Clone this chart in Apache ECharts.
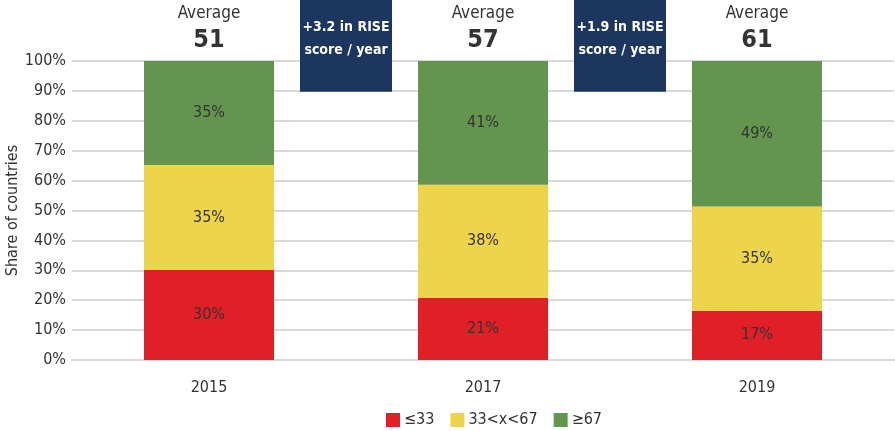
<!DOCTYPE html>
<html>
<head>
<meta charset="utf-8">
<script src="https://cdn.jsdelivr.net/npm/echarts@6/dist/echarts.min.js"></script>
<style>
  html, body { margin: 0; padding: 0; background: #fff; }
  #chart { width: 895px; height: 431px; }
</style>
</head>
<body>
<div id="chart"></div>
<script>
var years = ["2015", "2017", "2019"];
var bandNames = ["\u226433", "33<x<67", "\u226567"];
// shares (labels are rounded)
var lowShare = [30.1, 20.8, 16.5];
var midShare = [35.1, 37.8, 34.8];
var highShare = [34.8, 41.4, 48.7];
var averages = [51, 57, 61];
var gainPairs = [[0, 1], [1, 2]];
var gainText = ["+3.2 in RISE\nscore / year", "+1.9 in RISE\nscore / year"];
var yTicks = [0, 10, 20, 30, 40, 50, 60, 70, 80, 90, 100];

var font = '"DejaVu Sans Condensed", "Liberation Sans Narrow", sans-serif';
var textColor = "#333333";

var chart = echarts.init(document.getElementById("chart"));

function barLabel() {
  return {
    show: true,
    position: "inside",
    color: textColor,
    fontFamily: font,
    fontSize: 16,
    formatter: function (p) {
      return Math.round(p.value) + "%";
    }
  };
}

var option = {
  animation: false,
  textStyle: { fontFamily: font },
  grid: { left: 72, right: 1, top: 61, bottom: 71, outerBoundsMode: "none", containLabel: false },
  legend: {
    data: bandNames,
    left: 381,
    top: 407,
    itemWidth: 14,
    itemHeight: 14,
    itemGap: 16,
    icon: "rect",
    textStyle: { color: textColor, fontFamily: font, fontSize: 16, padding: [0, 0, 0, -1] }
  },
  xAxis: {
    type: "category",
    data: years,
    axisTick: { show: false },
    axisLine: { lineStyle: { color: "#d9d9d9", width: 2 } },
    axisLabel: { color: textColor, fontFamily: font, fontSize: 16, margin: 20 }
  },
  yAxis: {
    type: "value",
    min: yTicks[0],
    max: yTicks[yTicks.length - 1],
    interval: 10,
    name: "Share of countries",
    nameLocation: "middle",
    nameGap: 51,
    nameMoveOverlap: false,
    nameTextStyle: { color: textColor, fontFamily: font, fontSize: 16 },
    axisLine: { show: false },
    axisTick: { show: false },
    axisLabel: {
      color: textColor,
      fontFamily: font,
      fontSize: 16,
      margin: 6,
      formatter: "{value}%"
    },
    splitLine: { lineStyle: { color: "#d9d9d9", width: 2 } }
  },
  series: [
    {
      name: bandNames[0],
      type: "bar",
      stack: "share",
      barWidth: 130,
      data: lowShare,
      itemStyle: { color: "#e01f26" },
      label: barLabel()
    },
    {
      name: bandNames[1],
      type: "bar",
      stack: "share",
      barWidth: 130,
      data: midShare,
      itemStyle: { color: "#eed44b" },
      label: barLabel()
    },
    {
      name: bandNames[2],
      type: "bar",
      stack: "share",
      barWidth: 130,
      data: highShare,
      itemStyle: { color: "#64954e" },
      label: barLabel()
    },
    {
      // zero-height cap that carries the "Average" label
      name: "average",
      type: "bar",
      stack: "share",
      barWidth: 130,
      data: years.map(function () { return 0; }),
      itemStyle: { color: "transparent" },
      label: {
        show: true,
        position: "top",
        distance: 7,
        formatter: function (p) {
          return "{a|Average}\n{b|" + averages[p.dataIndex] + "}";
        },
        rich: {
          a: { color: textColor, fontFamily: font, fontSize: 17, lineHeight: 24, align: "center" },
          b: { color: textColor, fontFamily: font, fontSize: 25, fontWeight: "bold", lineHeight: 28, align: "center" }
        }
      }
    },
    {
      name: "gain",
      type: "custom",
      clip: false,
      z: 10,
      data: gainPairs,
      renderItem: function (params, api) {
        var a = api.coord([api.value(0), 100]);
        var b = api.coord([api.value(1), 100]);
        var bottom = api.coord([api.value(0), 89.7])[1];
        var cx = (a[0] + b[0]) / 2;
        var w = 92;
        return {
          type: "group",
          children: [
            {
              type: "rect",
              shape: { x: cx - w / 2, y: 0, width: w, height: bottom },
              style: { fill: "#1c3660" }
            },
            {
              type: "text",
              style: {
                x: cx,
                y: bottom / 2 - 7,
                text: gainText[params.dataIndex],
                fill: "#ffffff",
                fontFamily: font,
                fontWeight: "bold",
                fontSize: 14,
                lineHeight: 23,
                align: "center",
                verticalAlign: "middle"
              }
            }
          ]
        };
      }
    }
  ]
};

chart.setOption(option);
</script>
</body>
</html>
